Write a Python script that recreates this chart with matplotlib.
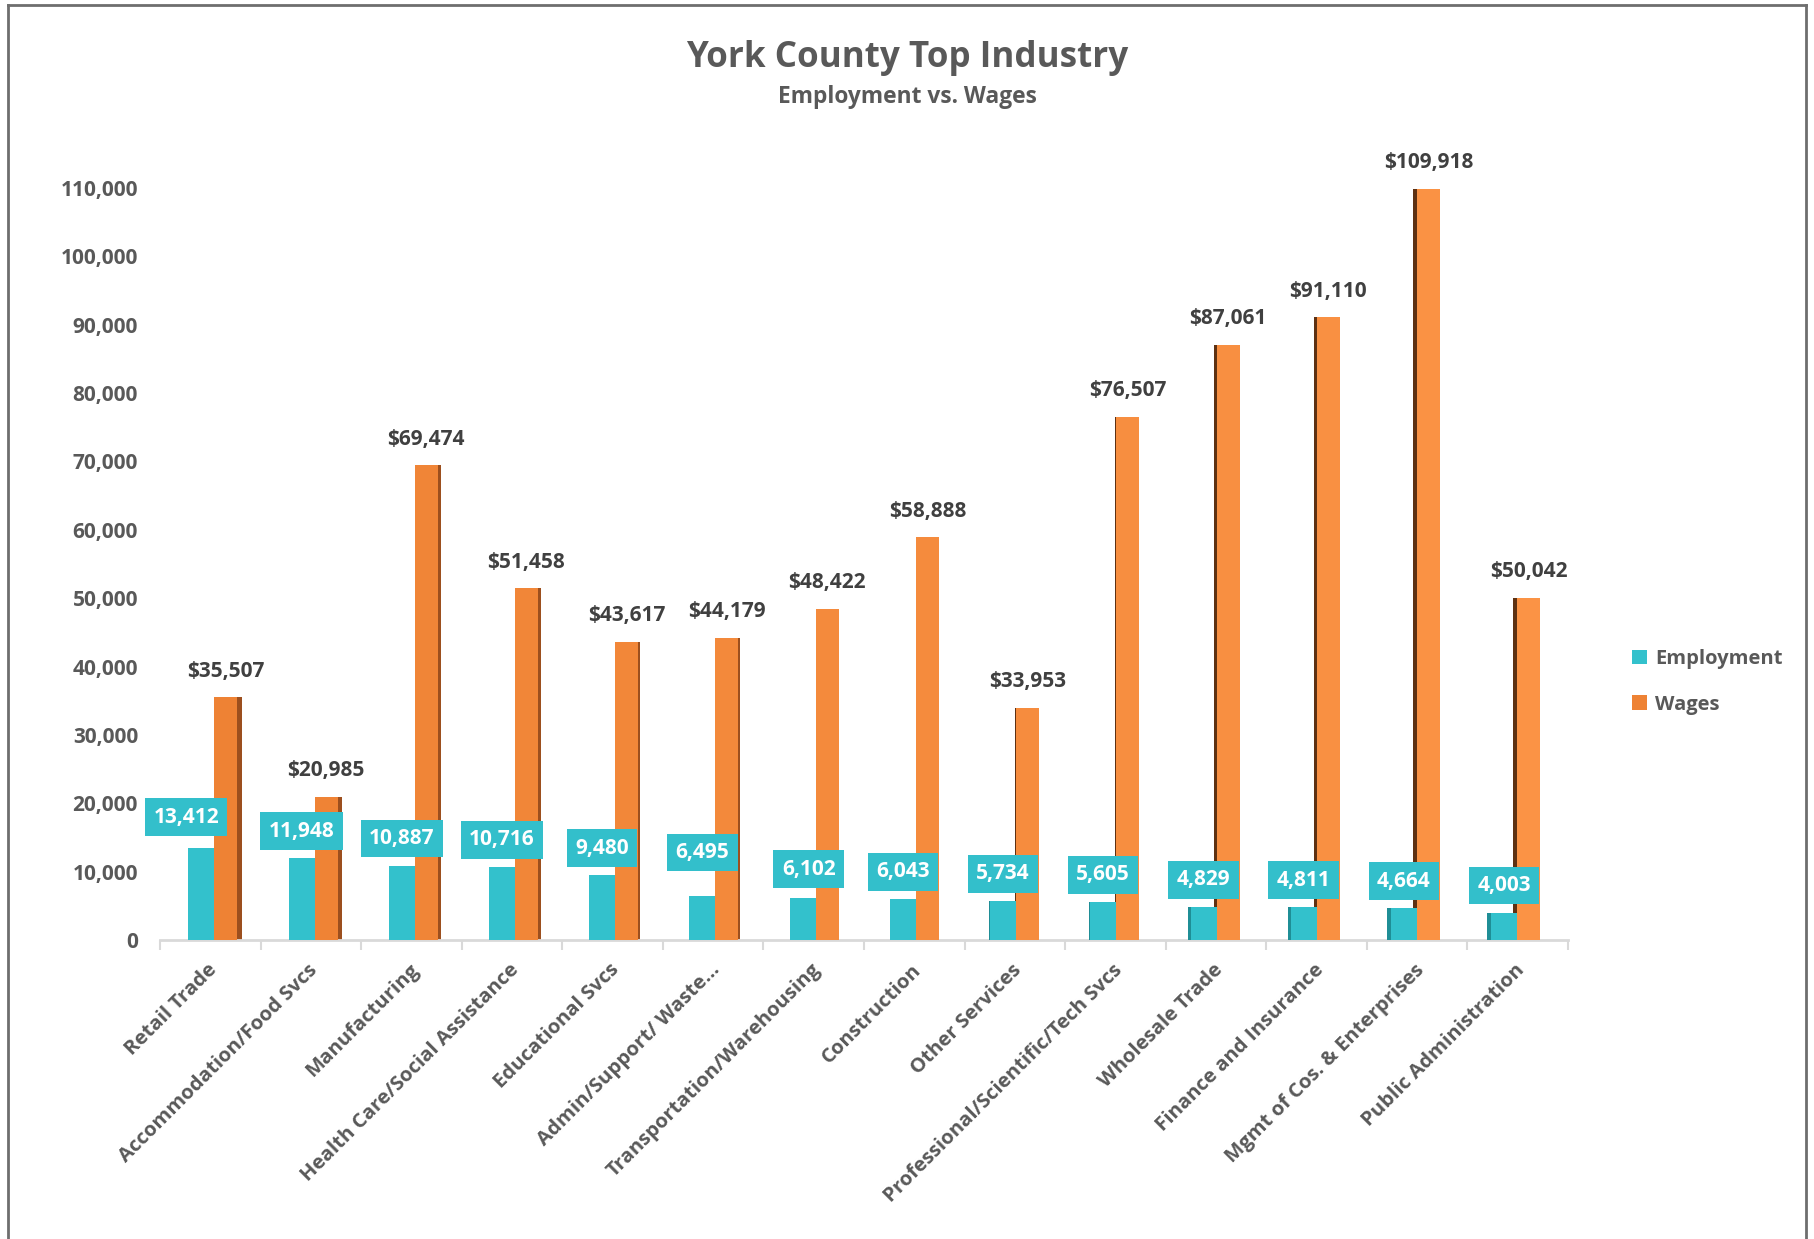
import os
import matplotlib
matplotlib.use("Agg")
import matplotlib.pyplot as plt
import matplotlib.transforms as mtransforms
from matplotlib import font_manager
from matplotlib.font_manager import FontProperties
from matplotlib.lines import Line2D
from matplotlib.ticker import FuncFormatter, FixedLocator
import numpy as np

# ---- data ----
industries = [
    "Retail Trade", "Accommodation/Food Svcs", "Manufacturing",
    "Health Care/Social Assistance", "Educational Svcs", "Admin/Support/ Waste...",
    "Transportation/Warehousing", "Construction", "Other Services",
    "Professional/Scientific/Tech Svcs", "Wholesale Trade", "Finance and Insurance",
    "Mgmt of Cos. & Enterprises", "Public Administration",
]
employment = [13412, 11948, 10887, 10716, 9480, 6495, 6102, 6043, 5734, 5605,
              4829, 4811, 4664, 4003]
wages = [35507, 20985, 69474, 51458, 43617, 44179, 48422, 58888, 33953, 76507,
         87061, 91110, 109918, 50042]
y_ticks = list(range(0, 110001, 10000))


# ---- bold font file lookup ----
def bold_file(families):
    bad = ("italic", "semi", "extra", "light", "thin", "medium", "black",
           "heavy", "hairline", "condensed", "oblique", "demi")
    for fam in families:
        for f in font_manager.fontManager.ttflist:
            base = os.path.basename(f.fname).lower()
            if f.name != fam or "bold" not in base:
                continue
            if any(b in base for b in bad):
                continue
            return f.fname
    return None


BOLD_PATH = bold_file(["Open Sans", "Noto Sans", "Lato", "DejaVu Sans"])


def bold(size):
    if BOLD_PATH:
        return FontProperties(fname=BOLD_PATH, size=size)
    return FontProperties(family="DejaVu Sans", weight="bold", size=size)


TEXT = "#595959"
DARK_TEXT = "#404040"
TEAL = "#33C1CC"
TEAL_BOX = "#33BFCB"
TEAL_SIDE = "#1F8E96"
ORANGE_L = np.array([0xEE, 0x82, 0x34]) / 255
ORANGE_R = np.array([0xFB, 0x93, 0x45]) / 255
SIDE_R = "#9C4F1E"
SIDE_L = "#5E3112"
FS = 15          # numbers
FS_CAT = 14.6    # category labels
FS_LEG = 14.5    # legend

W, H, DPI = 1814, 1239, 100
fig = plt.figure(figsize=(W / DPI, H / DPI), dpi=DPI)
fig.patch.set_facecolor("white")

# plot area in pixels
x0, x1 = 160, 1568
y0, y1 = 940, 188
ax = fig.add_axes([x0 / W, 1 - y0 / H, (x1 - x0) / W, (y0 - y1) / H])
ax.set_facecolor("none")

n = len(industries)
idx = np.arange(n)
U = (x1 - x0) / n          # pixels per category
ax.set_xlim(-0.5, n - 0.5)
ax.set_ylim(0, 110000)

# slight perspective: cluster shifts and side faces change across the axis
shift = (4 - 0.35 * idx) / U
side_w = np.abs(idx - 6.8) * 0.7 / U
blue_w = 26 / U
orng_w = 23 / U
frac = idx / (n - 1)
orange_cols = [tuple(ORANGE_L + (ORANGE_R - ORANGE_L) * f) for f in frac]

right_side = idx < 6.8
left_side = ~right_side

# orange side faces (right side on left half, left side on right half)
ax.bar(idx[right_side] + shift[right_side] + orng_w, np.array(wages)[right_side],
       width=side_w[right_side], align="edge", color=SIDE_R, linewidth=0, zorder=2)
ax.bar(idx[left_side] + shift[left_side] - side_w[left_side], np.array(wages)[left_side],
       width=side_w[left_side], align="edge", color=SIDE_L, linewidth=0, zorder=2)

# wage bars
wage_bars = ax.bar(idx + shift, wages, width=orng_w, align="edge",
                   color=orange_cols, linewidth=0, zorder=3, label="Wages")

# employment side faces and bars
ax.bar(idx[left_side] + shift[left_side] - blue_w - side_w[left_side],
       np.array(employment)[left_side], width=side_w[left_side], align="edge",
       color=TEAL_SIDE, linewidth=0, zorder=4)
emp_bars = ax.bar(idx + shift - blue_w, employment, width=blue_w, align="edge",
                  color=TEAL, linewidth=0, zorder=5, label="Employment")

# ---- value labels ----
emp_dx = [-15, 0, 0, 0, 0, 0, 6, 0, 0, 0, 0, 0, 0, 0]   # px
emp_dy = [31, 27, 27, 27, 27, 43, 29, 27, 27, 27, 27, 27, 27, 27]  # px
for i, v in enumerate(employment):
    xc = i + shift[i] - blue_w / 2
    ax.annotate(f"{v:,}", (xc, v), xytext=(emp_dx[i] * 0.72, emp_dy[i] * 0.72),
                textcoords="offset points", ha="center", va="center",
                fontproperties=bold(FS), color="white", zorder=8,
                annotation_clip=False,
                bbox=dict(boxstyle="square,pad=0.4", fc=TEAL_BOX, ec="none"))

for i, v in enumerate(wages):
    xc = i + shift[i] + orng_w / 2
    ax.annotate(f"${v:,}", (xc, v), xytext=(0, 26 * 0.72),
                textcoords="offset points", ha="center", va="center",
                fontproperties=bold(FS), color=DARK_TEXT, zorder=8,
                annotation_clip=False)

# ---- axes ----
for sp in ["left", "right", "top"]:
    ax.spines[sp].set_visible(False)
ax.spines["bottom"].set_color("#D9D9D9")
ax.spines["bottom"].set_linewidth(2)

ax.yaxis.set_major_locator(FixedLocator(y_ticks))
ax.yaxis.set_major_formatter(FuncFormatter(lambda v, p: f"{int(v):,}"))
ax.tick_params(axis="y", length=0, pad=22 * 0.72, labelcolor=TEXT)
for lbl in ax.get_yticklabels():
    lbl.set_fontproperties(bold(FS))

ax.set_xticks(idx)
ax.set_xticks(np.arange(n + 1) - 0.5, minor=True)
ax.tick_params(axis="x", which="major", length=0, pad=20 * 0.72)
ax.tick_params(axis="x", which="minor", length=7, width=1.5, color="#D9D9D9",
               direction="out")
ax.set_xticklabels(industries, rotation=45, ha="right", rotation_mode="anchor",
                   color=TEXT)
offset = mtransforms.ScaledTranslation(-3 / DPI, 0, fig.dpi_scale_trans)
for lbl in ax.get_xticklabels():
    lbl.set_fontproperties(bold(FS_CAT))
    lbl.set_transform(lbl.get_transform() + offset)

# ---- titles ----
fig.text(0.5, 1 - 58 / H, "York County Top Industry", ha="center", va="center",
         fontproperties=bold(25.2), color=TEXT)
fig.text(0.5, 1 - 97 / H, "Employment vs. Wages", ha="center", va="center",
         fontproperties=bold(16.4), color=TEXT)

# ---- legend ----
fig.legend(handles=[emp_bars, wage_bars], labels=["Employment", "Wages"],
           loc="center left", bbox_to_anchor=(1614 / W, 1 - 682 / H),
           frameon=False, prop=bold(FS_LEG),
           labelcolor=TEXT, handlelength=0.75, handleheight=0.75,
           handletextpad=0.4, labelspacing=1.28)

# ---- chart frame ----
frame_kw = dict(color="#6E6E6E", linewidth=2, transform=fig.transFigure)
fig.add_artist(Line2D([8 / W, 8 / W], [0, 1 - 5 / H], **frame_kw))
fig.add_artist(Line2D([8 / W, 1806 / W], [1 - 5 / H, 1 - 5 / H], **frame_kw))
fig.add_artist(Line2D([1806 / W, 1806 / W], [0, 1 - 5 / H], **frame_kw))

fig.savefig("out.png", dpi=DPI)
